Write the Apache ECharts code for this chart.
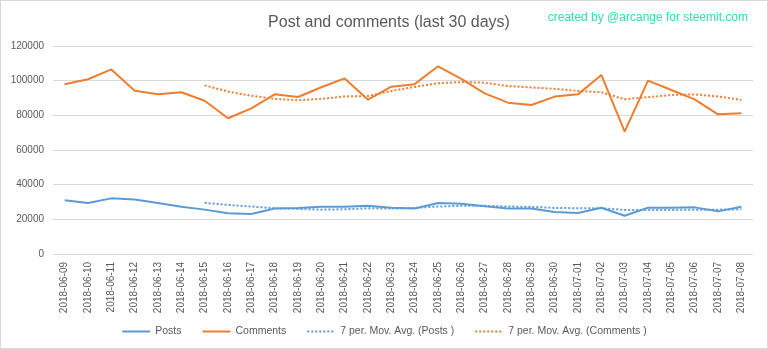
<!DOCTYPE html>
<html><head><meta charset="utf-8">
<script src="https://cdn.jsdelivr.net/npm/echarts@6/dist/echarts.min.js"></script>
<style>html,body{margin:0;padding:0;background:#fff}#c{width:766px;height:347px;border:1px solid #d9d9d9}</style>
</head><body><div id="c"></div>
<script>
const categories = ["2018-06-09","2018-06-10","2018-06-11","2018-06-12","2018-06-13","2018-06-14","2018-06-15","2018-06-16","2018-06-17","2018-06-18","2018-06-19","2018-06-20","2018-06-21","2018-06-22","2018-06-23","2018-06-24","2018-06-25","2018-06-26","2018-06-27","2018-06-28","2018-06-29","2018-06-30","2018-07-01","2018-07-02","2018-07-03","2018-07-04","2018-07-05","2018-07-06","2018-07-07","2018-07-08"];
const posts = [31000,29400,32100,31500,29400,27300,25600,23500,23100,26200,26500,27300,27300,27900,26700,26300,29400,29000,27500,26300,26300,24200,23700,26700,22100,26700,26700,26900,24600,27300];
const comments = [97900,100800,106500,94200,92100,93300,88400,78300,84000,92100,90600,96200,101300,89000,96500,98000,108300,101000,92700,87300,86000,90800,92100,103300,70600,100000,94600,89200,80600,81200];
const postsMA = [null,null,null,null,null,null,29500,28300,27400,26400,26000,25600,25800,26400,26200,26600,27400,27800,27800,27400,27200,26600,26400,26400,25400,25400,25400,25600,25600,25800];
const commentsMA = [null,null,null,null,null,null,97300,93700,91300,89500,88700,89500,90900,91100,94100,96400,98500,99200,98800,96900,96100,95300,94100,93300,89300,90500,91700,92100,90900,88900];
const yTicks = {min:0, max:120000, interval:20000};

const chart = echarts.init(document.getElementById('c'), null, {renderer:'canvas'});
const font = 'Liberation Sans, Arial, sans-serif';
const blue = '#5b9bd5', orange = '#ed7d31';
function line(name, data, color, type){
  return {name, type:'line', data, symbol:'none', showSymbol:false, smooth:false, connectNulls:false,
    lineStyle:{color, width:2, type}, itemStyle:{color}};
}
chart.setOption({
  animation:false,
  textStyle:{fontFamily:font},
  title:[
    {text:'Post and comments (last 30 days)', left:383, top:9, textAlign:'center',
     textStyle:{fontSize:16, fontWeight:'normal', color:'#595959', fontFamily:font}},
    {text:'created by @arcange for steemit.com', right:14, top:6,
     textStyle:{fontSize:12, fontWeight:'normal', color:'#2fe0a8', fontFamily:font}}
  ],
  grid:{left:52, right:14, top:45, bottom:94, containLabel:false},
  legend:{bottom:6, left:'center', itemWidth:28, itemHeight:10, itemGap:20,
    itemStyle:{opacity:0},
    textStyle:{fontSize:10.5, color:'#595959', fontFamily:font},
    data:['Posts','Comments','7 per. Mov. Avg. (Posts )','7 per. Mov. Avg. (Comments )']},
  xAxis:{type:'category', data:categories, boundaryGap:true,
    axisLine:{lineStyle:{color:'#d9d9d9'}}, axisTick:{show:false},
    axisLabel:{rotate:90, fontSize:10, color:'#595959', margin:8, interval:0, fontFamily:font}},
  yAxis:{type:'value', min:yTicks.min, max:yTicks.max, interval:yTicks.interval,
    axisLine:{show:false}, axisTick:{show:false},
    splitLine:{lineStyle:{color:'#d9d9d9', width:1}},
    axisLabel:{fontSize:10, color:'#595959', margin:9, fontFamily:font, formatter:v=>String(v)}},
  series:[
    line('Posts', posts, blue, 'solid'),
    line('Comments', comments, orange, 'solid'),
    line('7 per. Mov. Avg. (Posts )', postsMA, blue, [2,2]),
    line('7 per. Mov. Avg. (Comments )', commentsMA, orange, [2,2])
  ]
});
</script></body></html>
